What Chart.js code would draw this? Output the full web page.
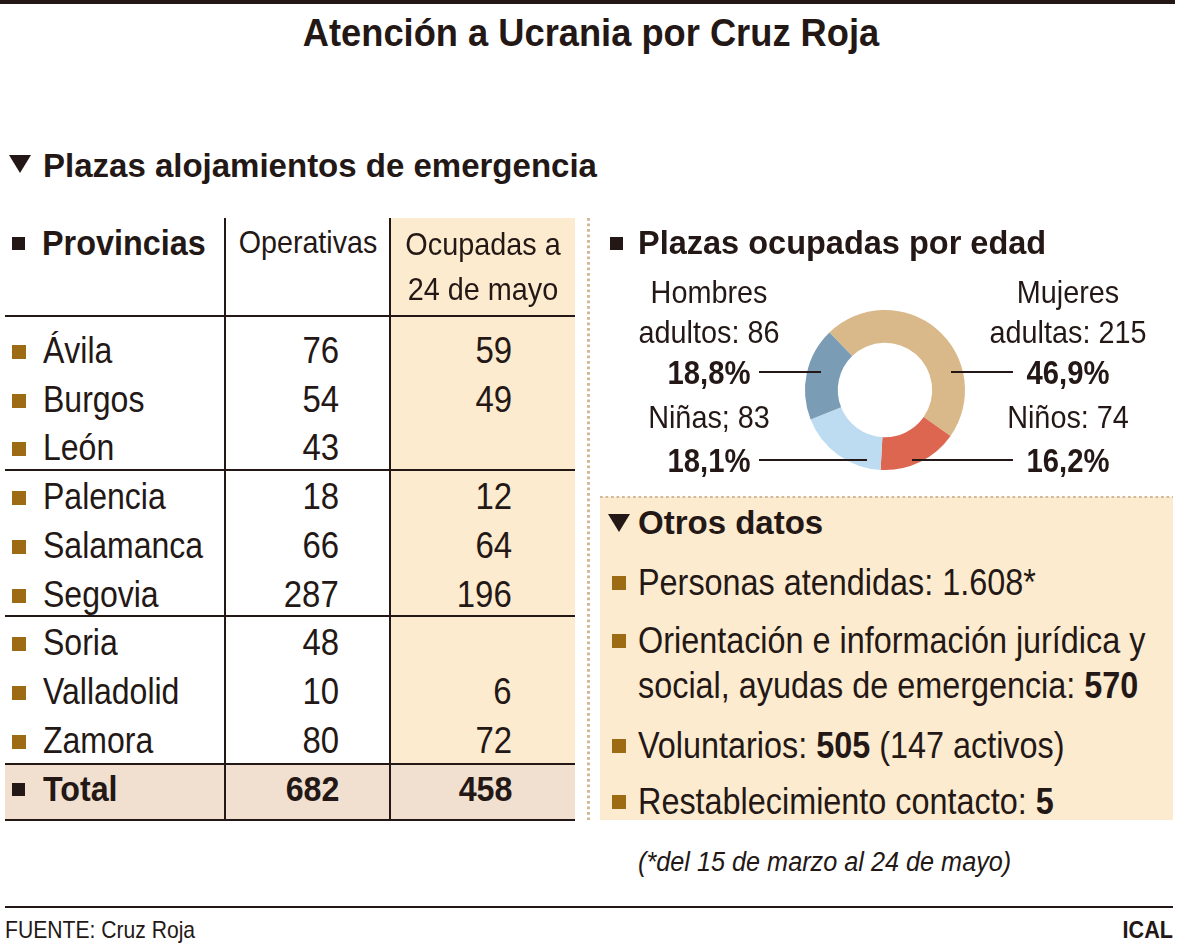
<!DOCTYPE html>
<html lang="es">
<head>
<meta charset="utf-8">
<script src="https://cdn.jsdelivr.net/npm/chart.js@4.4.0/dist/chart.umd.min.js"></script>
<style>
  html, body { margin: 0; padding: 0; background: #fff; }
  body { width: 1179px; height: 950px; position: relative; overflow: hidden;
         font-family: "Liberation Sans", Arial, sans-serif; color: #231815; }
  .abs { position: absolute; }
  .t { position: absolute; white-space: nowrap; }
  .hl { position: absolute; background: #231815; height: 2px; }
  .vl { position: absolute; background: #231815; width: 2px; }
  .sq { position: absolute; width: 14px; height: 14px; background: #9c6b14; }
  .sq.dark { width: 13px; height: 13px; background: #231815; }
  .tri { position: absolute; width: 0; height: 0; border-left: 11px solid transparent;
         border-right: 11px solid transparent; border-top: 18px solid #231815; }
</style>
</head>
<body>

<div class="abs" style="left:0;top:0;width:1175px;height:4px;background:#231815"></div>

<!-- tabla: fondos y lineas -->
<div class="abs" style="left:390px;top:218px;width:185px;height:546px;background:#fdebd0"></div>
<div class="abs" style="left:5px;top:764px;width:570px;height:56px;background:#f1e0cf"></div>
<div class="vl" style="left:224px;top:218px;height:602px"></div>
<div class="vl" style="left:389px;top:218px;height:602px"></div>
<div class="hl" style="left:5px;top:315px;width:570px"></div>
<div class="hl" style="left:5px;top:469px;width:570px"></div>
<div class="hl" style="left:5px;top:615px;width:570px"></div>
<div class="hl" style="left:5px;top:763px;width:570px"></div>
<div class="hl" style="left:5px;top:819px;width:570px"></div>

<!-- separador punteado -->
<div class="abs" style="left:587px;top:218px;width:3px;height:602px;background-image:linear-gradient(to bottom,#d4b896 55%,transparent 55%);background-size:3px 5.5px"></div>

<!-- otros datos: fondo -->
<div class="abs" style="left:600px;top:497px;width:573px;height:323px;background:#fdebd0"></div>
<div class="abs" style="left:600px;top:496px;width:573px;height:2px;background-image:linear-gradient(to right,#d4b896 55%,transparent 55%);background-size:5.5px 2px"></div>

<div class="tri" style="left:9px;top:155px"></div>
<div class="tri" style="left:608px;top:514px"></div>
<div class="sq dark" style="left:12px;top:237px"></div>
<div class="sq dark" style="left:610px;top:237px"></div>
<div class="sq dark" style="left:12px;top:783px"></div>

<canvas id="donut" class="abs" style="left:600px;top:280px;width:573px;height:195px"></canvas>

<div class="abs" style="left:5px;top:906px;width:1168px;height:2px;background:#231815"></div>

<div id="texts"></div>

<script>
// datos
let provincias = ["Ávila","Burgos","León","Palencia","Salamanca","Segovia","Soria","Valladolid","Zamora"];
let operativas = [76, 54, 43, 18, 66, 287, 48, 10, 80];
let ocupadas = [59, 49, null, 12, 64, 196, null, 6, 72];

let edadLabels = ["Mujeres adultas", "Niños", "Niñas", "Hombres adultos"];
let edadValues = [215, 74, 83, 86];
let edadColors = ["#d9b88a", "#dd6650", "#bddcf1", "#7b9cb5"];

let otros = [
  ["Personas atendidas: 1.608*"],
  ["Orientación e información jurídica y", "social, ayudas de emergencia: <b>570</b>"],
  ["Voluntarios: <b>505</b> (147 activos)"],
  ["Restablecimiento contacto: <b>5</b>"]
];
let otrosY = [[582], [640, 685], [745], [801]];   // centros de línea

let out = "";

// texto con ancho condensado: anchor 'l' | 'r' | 'c'
function txt(x, top, s, size, opt) {
    opt = opt || {};
    let a = opt.a || "l";
    let sx = opt.sx || 1;
    let lh = opt.lh || Math.round(size * 1.2);
    let st = "top:" + top + "px;font-size:" + size + "px;line-height:" + lh + "px;";
    if (opt.b) st += "font-weight:bold;";
    if (opt.i) st += "font-style:italic;";
    if (a == "l") st += "left:" + x + "px;transform-origin:left;";
    if (a == "r") st += "right:" + (1179 - x) + "px;text-align:right;transform-origin:right;";
    if (a == "c") st += "left:" + (x - 500) + "px;width:1000px;text-align:center;transform-origin:center;";
    st += "transform:scaleX(" + sx + ");";
    out += '<div class="t" style="' + st + '">' + s + '</div>';
}
// top para que la línea quede centrada en cy
function rowTop(cy, lh) { return cy - lh / 2; }

txt(591, 10.5, "Atención a Ucrania por Cruz Roja", 39, {a: "c", b: true, sx: 0.93, lh: 44});
txt(43, 145, "Plazas alojamientos de emergencia", 33, {b: true, lh: 42});

// cabecera tabla
txt(42, 222, "Provincias", 35, {b: true, sx: 0.925, lh: 42});
txt(308, 222, "Operativas", 32, {a: "c", sx: 0.895, lh: 40});
txt(483, 222, "Ocupadas a<br>24 de mayo", 32, {a: "c", sx: 0.9, lh: 45});

// filas
for (let i = 0; i < provincias.length; i++) {
    let cy = 351 + i * 48.7;
    out += '<div class="sq" style="left:12px;top:' + (cy - 6) + 'px"></div>';
    txt(43, rowTop(cy, 40), provincias[i], 37, {sx: 0.865, lh: 40});
    txt(339, rowTop(cy, 40), String(operativas[i]), 37, {a: "r", sx: 0.89, lh: 40});
    if (ocupadas[i] != null) {
        txt(512, rowTop(cy, 40), String(ocupadas[i]), 37, {a: "r", sx: 0.89, lh: 40});
    }
}
let totalOp = operativas.reduce((a, b) => a + b, 0);
let totalOc = ocupadas.reduce((a, b) => a + (b || 0), 0);
txt(43, rowTop(789, 40), "Total", 35, {b: true, sx: 0.92, lh: 40});
txt(339, rowTop(789, 40), String(totalOp), 35, {a: "r", b: true, sx: 0.92, lh: 40});
txt(512, rowTop(789, 40), String(totalOc), 35, {a: "r", b: true, sx: 0.92, lh: 40});

// plazas por edad
txt(638, 222, "Plazas ocupadas por edad", 32.5, {b: true, lh: 42});
let total = edadValues.reduce((a, b) => a + b, 0);
function pct(v){ return (Math.round(v / total * 1000) / 10).toFixed(1).replace(".", ",") + "%"; }
txt(709, 272, "Hombres", 32, {a: "c", sx: 0.9, lh: 40});
txt(709, 312, "adultos: " + edadValues[3], 32, {a: "c", sx: 0.9, lh: 40});
txt(709, 352, pct(edadValues[3]), 34, {a: "c", b: true, sx: 0.86, lh: 40});
txt(1068, 272, "Mujeres", 32, {a: "c", sx: 0.9, lh: 40});
txt(1068, 312, "adultas: " + edadValues[0], 32, {a: "c", sx: 0.9, lh: 40});
txt(1068, 352, pct(edadValues[0]), 34, {a: "c", b: true, sx: 0.86, lh: 40});
txt(709, 397, "Niñas; " + edadValues[2], 32, {a: "c", sx: 0.9, lh: 40});
txt(709, 440, pct(edadValues[2]), 34, {a: "c", b: true, sx: 0.86, lh: 40});
txt(1068, 397, "Niños: " + edadValues[1], 32, {a: "c", sx: 0.9, lh: 40});
txt(1068, 440, pct(edadValues[1]), 34, {a: "c", b: true, sx: 0.86, lh: 40});

// otros datos
txt(638, 502, "Otros datos", 33, {b: true, lh: 42});
for (let k = 0; k < otros.length; k++) {
    let ys = otrosY[k];
    out += '<div class="sq" style="left:612px;top:' + (ys[0] - 6) + 'px"></div>';
    for (let j = 0; j < otros[k].length; j++) {
        txt(638, rowTop(ys[j], 45), otros[k][j], 37, {sx: 0.875, lh: 45});
    }
}
txt(638, 846, "(*del 15 de marzo al 24 de mayo)", 27, {i: true, sx: 0.935, lh: 32});

txt(5, 916, "FUENTE: Cruz Roja", 24, {sx: 0.88, lh: 28});
txt(1173, 916, "ICAL", 24, {a: "r", b: true, sx: 0.9, lh: 28});

document.getElementById("texts").innerHTML = out;

// lineas guía, relativas al centro del donut
const leaderLines = {
    id: "leaderLines",
    afterDatasetsDraw(chart) {
        let arc = chart.getDatasetMeta(0).data[0];
        let cx = arc.x, cy = arc.y;
        let segs = [[-126, -64, -18], [66, 128, -18], [-126, -18, 70], [27, 128, 70]];
        let ctx = chart.ctx;
        ctx.save();
        ctx.strokeStyle = "#231815";
        ctx.lineWidth = 2;
        for (const s of segs) {
            ctx.beginPath();
            ctx.moveTo(cx + s[0], cy + s[2]);
            ctx.lineTo(cx + s[1], cy + s[2]);
            ctx.stroke();
        }
        ctx.restore();
    }
};

new Chart("donut", {
    type: "doughnut",
    data: {
        labels: edadLabels,
        datasets: [{
            data: edadValues,
            backgroundColor: edadColors,
            borderWidth: 0
        }]
    },
    options: {
        responsive: false,
        animation: false,
        cutout: "59%",
        rotation: -44,
        layout: { padding: { left: 205, right: 208, top: 30, bottom: 5 } },
        plugins: {
            legend: { display: false },
            tooltip: { enabled: false }
        }
    },
    plugins: [leaderLines]
});
</script>
</body>
</html>
